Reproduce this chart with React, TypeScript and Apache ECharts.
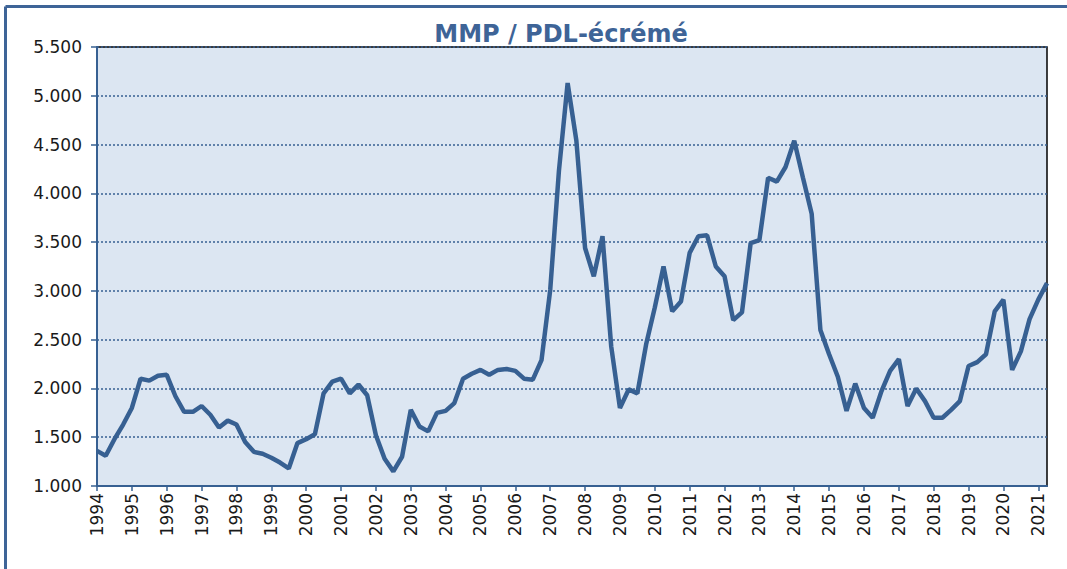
import React, { useEffect, useRef } from "react";
import * as echarts from "echarts";

const title = "MMP / PDL-écrémé";
const firstYear = 1994;
const lastYear = 2021;
const quarterNames = ["T1", "T2", "T3", "T4"];
const yTicks = { min: 1.0, max: 5.5, step: 0.5 };

// Quarterly values, 1994 T1 -> 2021 T2
const values: number[] = [
  1.36, 1.31, 1.48, 1.63,
  1.80, 2.10, 2.08, 2.13,
  2.14, 1.92, 1.76, 1.76,
  1.82, 1.73, 1.60, 1.67,
  1.63, 1.45, 1.35, 1.33,
  1.29, 1.24, 1.18, 1.44,
  1.48, 1.53, 1.95, 2.07,
  2.10, 1.95, 2.04, 1.93,
  1.52, 1.28, 1.15, 1.30,
  1.78, 1.61, 1.56, 1.75,
  1.77, 1.85, 2.10, 2.15,
  2.19, 2.14, 2.19, 2.20,
  2.18, 2.10, 2.09, 2.29,
  3.01, 4.23, 5.13, 4.54,
  3.44, 3.15, 3.56, 2.43,
  1.80, 1.99, 1.95, 2.45,
  2.83, 3.25, 2.79, 2.89,
  3.39, 3.56, 3.57, 3.25,
  3.15, 2.70, 2.78, 3.49,
  3.52, 4.16, 4.12, 4.27,
  4.54, 4.16, 3.79, 2.60,
  2.35, 2.12, 1.77, 2.05,
  1.80, 1.70, 1.97, 2.18,
  2.30, 1.82, 2.00, 1.87,
  1.70, 1.70, 1.78, 1.87,
  2.23, 2.27, 2.35, 2.79,
  2.91, 2.19, 2.38, 2.71,
  2.91, 3.08,
];

const categories: string[] = [];
for (let y = firstYear; y <= lastYear; y++) {
  for (const q of quarterNames) {
    if (categories.length < values.length) categories.push(`${y} ${q}`);
  }
}

const BLUE = "#376092";

export default function App() {
  const ref = useRef<HTMLDivElement>(null);
  useEffect(() => {
    document.body.style.margin = "0";
    if (!ref.current) return;
    const chart = echarts.init(ref.current, undefined, { renderer: "svg" });
    chart.setOption({
      animation: false,
      backgroundColor: "#ffffff",
      title: {
        text: title,
        left: 556,
        textAlign: "center",
        top: 17,
        textStyle: {
          fontFamily: "DejaVu Sans",
          fontWeight: "bold",
          fontSize: 24,
          color: "#3E6497",
        },
      },
      graphic: [
        {
          type: "line",
          shape: { x1: 5.5, y1: 6.5, x2: 5.5, y2: 569 },
          style: { stroke: "#3E6497", lineWidth: 3 },
        },
        {
          type: "line",
          shape: { x1: 5.5, y1: 6.5, x2: 1067, y2: 6.5 },
          style: { stroke: "#3E6497", lineWidth: 3 },
        },
      ],
      grid: {
        left: 97,
        right: 20,
        top: 47,
        bottom: 83,
        show: true,
        backgroundColor: "#DCE6F2",
        borderColor: "#000000",
        borderWidth: 1.5,
      },
      xAxis: {
        type: "category",
        data: categories,
        boundaryGap: false,
        axisLine: { lineStyle: { color: BLUE, width: 2 } },
        axisTick: {
          interval: 3,
          length: 5,
          lineStyle: { color: BLUE, width: 1.5 },
        },
        axisLabel: {
          interval: 3,
          rotate: 90,
          margin: 7,
          fontFamily: "DejaVu Sans",
          fontSize: 17,
          color: "#1a1a1a",
          formatter: (v: string) => v.slice(0, 4),
        },
        splitLine: { show: false },
      },
      yAxis: {
        type: "value",
        min: yTicks.min,
        max: yTicks.max,
        interval: yTicks.step,
        axisLine: { show: true, lineStyle: { color: BLUE, width: 2 } },
        axisTick: { show: true, length: 6, lineStyle: { color: BLUE, width: 1.5 } },
        axisLabel: {
          margin: 15,
          fontFamily: "DejaVu Sans",
          fontSize: 17,
          color: "#1a1a1a",
          formatter: (v: number) => v.toFixed(3),
        },
        splitLine: {
          show: true,
          lineStyle: { color: BLUE, width: 1.5, type: [2, 2] },
        },
      },
      series: [
        {
          type: "line",
          data: values,
          symbol: "none",
          lineStyle: { color: BLUE, width: 4.5 },
          z: 3,
        },
      ],
    });
    return () => chart.dispose();
  }, []);
  return <div ref={ref} style={{ width: 1067, height: 569 }} />;
}
